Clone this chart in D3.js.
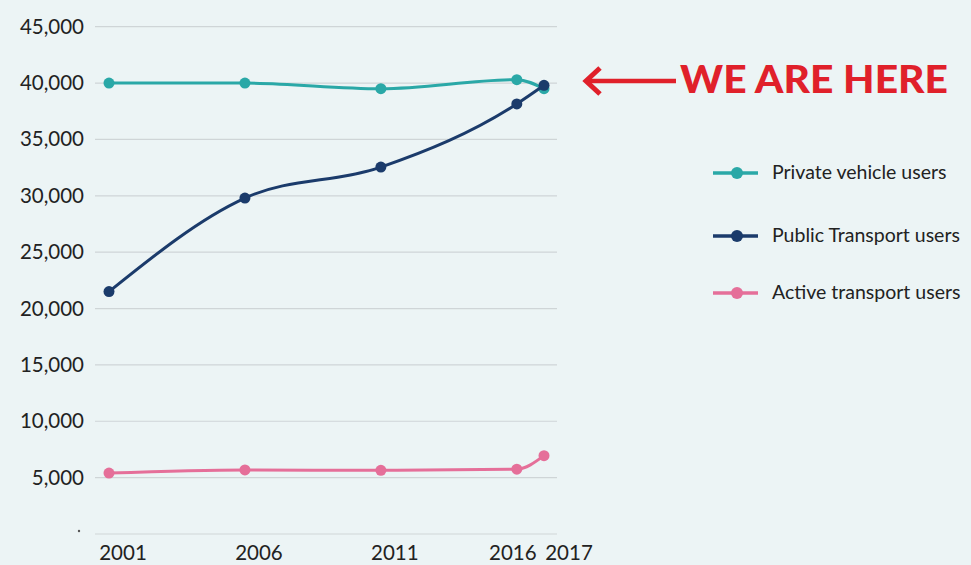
<!DOCTYPE html>
<html><head><meta charset="utf-8">
<script src="https://cdn.jsdelivr.net/npm/d3@7"></script>
<style>
html,body{margin:0;padding:0;background:#ecf4f5;}
svg{display:block;}
text{font-family:Lato,"Open Sans",sans-serif;}
</style></head>
<body>
<svg id="c" width="971" height="565"></svg>
<script>
const years = [2001, 2006, 2011, 2016, 2017];
const xTickLabels = ["2001", "2006", "2011", "2016", "2017"];
const yTicks = [0, 5000, 10000, 15000, 20000, 25000, 30000, 35000, 40000, 45000];
const seriesNames = ["Private vehicle users", "Public Transport users", "Active transport users"];
const seriesColors = ["#2aa8a7", "#1b3b6b", "#e56f99"];
const privateVehicle = [40000, 40000, 39500, 40300, 39500];
const publicTransport = [21500, 29800, 32550, 38150, 39800];
const activeTransport = [5400, 5680, 5650, 5750, 6950];
const annotation = "WE ARE HERE";

const svg = d3.select("#c");
const x = d3.scaleLinear().domain([2001, 2017]).range([109, 544]);
const y = d3.scaleLinear().domain([0, 45000]).range([534, 26.7]);

// grid
svg.append("g").selectAll("line").data(yTicks).join("line")
  .attr("x1", 95).attr("x2", 557)
  .attr("y1", d => y(d)).attr("y2", d => y(d))
  .attr("stroke", "#cfd5d7").attr("stroke-width", 1.2);

// y labels
const fmt = d3.format(",");
svg.append("g").selectAll("text").data(yTicks.filter(d => d > 0)).join("text")
  .attr("x", 84).attr("y", d => y(d) + 7)
  .attr("text-anchor", "end").attr("font-size", 20.5).attr("fill", "#222")
  .text(d => fmt(d));
svg.append("circle").attr("cx", 79).attr("cy", y(0) - 3).attr("r", 1.2).attr("fill", "#555");

// x labels
const xOff = [14, 14, 14, -4, 25];
svg.append("g").selectAll("text").data(years).join("text")
  .attr("x", (d, i) => x(d) + xOff[i]).attr("y", 560)
  .attr("text-anchor", "middle").attr("font-size", 20.5).attr("fill", "#222")
  .text((d, i) => xTickLabels[i]);

const all = [privateVehicle, publicTransport, activeTransport];
const line = d3.line().x((d, i) => x(years[i])).y(d => y(d)).curve(d3.curveMonotoneX);
all.forEach((vals, k) => {
  const g = svg.append("g");
  g.append("path").attr("d", line(vals)).attr("fill", "none")
    .attr("stroke", seriesColors[k]).attr("stroke-width", 3);
  g.selectAll("circle").data(vals).join("circle")
    .attr("cx", (d, i) => x(years[i])).attr("cy", d => y(d)).attr("r", 5.5)
    .attr("fill", seriesColors[k]);
});

// legend
const ly = [173, 236, 293];
seriesNames.forEach((n, k) => {
  const g = svg.append("g");
  g.append("line").attr("x1", 713).attr("x2", 758).attr("y1", ly[k]).attr("y2", ly[k])
    .attr("stroke", seriesColors[k]).attr("stroke-width", 3.5);
  g.append("circle").attr("cx", 737).attr("cy", ly[k]).attr("r", 6).attr("fill", seriesColors[k]);
  g.append("text").attr("x", 772).attr("y", ly[k] + 6).attr("font-size", 19.5).attr("fill", "#222").text(n);
});

// annotation
const red = "#e0202a";
svg.append("line").attr("x1", 587).attr("x2", 676).attr("y1", 81).attr("y2", 81)
  .attr("stroke", red).attr("stroke-width", 4.5);
svg.append("path").attr("d", "M600,68 L586,81 L600,94").attr("fill", "none")
  .attr("stroke", red).attr("stroke-width", 5);
svg.append("text").attr("x", 680).attr("y", 93).attr("font-size", 38).attr("font-weight", 900)
  .attr("fill", red).attr("textLength", 268).attr("lengthAdjust", "spacingAndGlyphs").text(annotation);
</script>
</body></html>
